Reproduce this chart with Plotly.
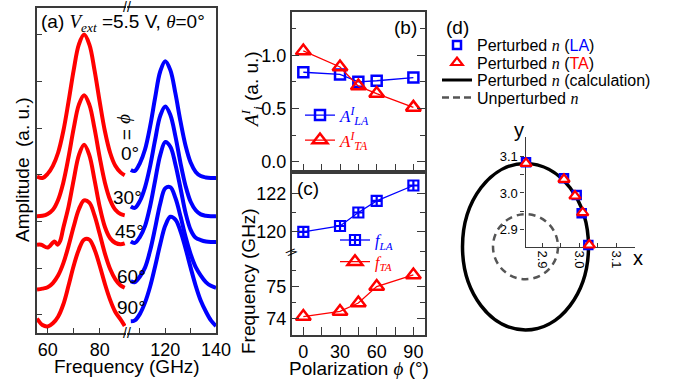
import plotly.graph_objects as go

W, H = 673, 385
RED, BLUE = "#ff0000", "#0000ff"
AX = "#3a3a3a"
SANS = "Liberation Sans, Arial, sans-serif"
SERIF = "Liberation Serif, Times New Roman, serif"

# ---------------- data ----------------
# (a) spectra, amplitude in offset units
red_freq = [55.9, 58, 60, 62, 64, 66, 68, 70, 72, 74, 76, 78, 80, 82, 84, 86, 88, 89.6]
red_freq_45 = [55.9, 57.5, 60.0, 62.6, 63.8, 64.8, 66, 68, 70, 72, 74, 76, 78, 80, 82, 84, 86, 88, 89.6]
red_0 = [2.96, 2.93, 3.02, 3.19, 3.47, 3.93, 4.56, 5.24, 5.79, 6.00, 5.79, 5.24, 4.56, 3.93, 3.47, 3.19, 3.05, 2.99]
red_30 = [2.11, 2.12, 2.16, 2.25, 2.46, 2.83, 3.37, 3.99, 4.50, 4.70, 4.50, 3.99, 3.37, 2.83, 2.46, 2.25, 2.16, 2.13]
red_45 = [1.50, 1.50, 1.44, 1.57, 1.50, 1.58, 1.86, 2.31, 2.89, 3.42, 3.64, 3.42, 2.89, 2.31, 1.88, 1.64, 1.54, 1.51, 1.53]
red_60 = [0.54, 0.56, 0.59, 0.68, 0.84, 1.10, 1.47, 1.89, 2.26, 2.45, 2.40, 2.13, 1.73, 1.31, 0.98, 0.76, 0.63, 0.58]
red_90 = [-0.08, -0.22, -0.25, -0.18, -0.04, 0.22, 0.62, 1.05, 1.40, 1.61, 1.61, 1.40, 1.05, 0.66, 0.32, 0.06, -0.10, -0.24]

blue_freq = [106.4, 108, 110, 112, 114, 116, 118, 120, 122, 124, 126, 128, 130, 132, 134, 136, 138, 140]
blue_0 = [3.10, 3.08, 3.25, 3.54, 4.03, 4.65, 5.21, 5.43, 5.24, 4.74, 4.14, 3.62, 3.26, 3.06, 2.97, 2.94, 2.93, 2.93]
blue_30 = [2.32, 2.29, 2.44, 2.73, 3.18, 3.75, 4.26, 4.46, 4.28, 3.82, 3.25, 2.76, 2.42, 2.24, 2.15, 2.12, 2.11, 2.11]
blue_45 = [1.57, 1.54, 1.67, 1.90, 2.32, 2.88, 3.42, 3.70, 3.60, 3.22, 2.71, 2.18, 1.82, 1.65, 1.60, 1.57, 1.56, 1.56]
blue_60 = [0.72, 0.70, 0.82, 1.01, 1.37, 1.86, 2.38, 2.71, 2.73, 2.50, 2.11, 1.67, 1.30, 1.02, 0.84, 0.70, 0.62, 0.58]
blue_90 = [-0.14, -0.12, 0.02, 0.26, 0.60, 1.04, 1.51, 1.91, 2.10, 2.04, 1.79, 1.42, 1.01, 0.62, 0.30, 0.07, -0.12, -0.24]

phi_labels = ["0°", "30°", "45°", "60°", "90°"]

# (b), (c)
pol_angle = [0, 30, 45, 60, 90]
amp_LA = [0.84, 0.82, 0.75, 0.76, 0.79]
amp_TA = [1.04, 0.89, 0.71, 0.64, 0.51]
freq_LA = [120.0, 120.3, 121.0, 121.6, 122.4]
freq_TA = [74.07, 74.23, 74.49, 75.00, 75.36]

# (d) index surface
n_LA_x = [2.8554, 2.9586, 2.9931, 3.0067, 3.0247]
n_LA_y = [3.0833, 3.0399, 2.9945, 2.9448, 2.8586]
n_TA_x = [2.8554, 2.9586, 2.9885, 3.0094, 3.0274]
n_TA_y = [3.0806, 3.0372, 2.9918, 2.9464, 2.8586]
calc_center = [2.854, 2.854]
calc_semi_axes = [0.1712, 0.2264]
unpert_center = [2.854, 2.854]
unpert_radius = 0.0883

# ---------------- helpers ----------------
def fx(px):
    return px / W

def fy(py):
    return 1 - py / H

fig = go.Figure()

for xs, ys in zip([red_freq, red_freq, red_freq_45, red_freq, red_freq],
                  [red_0, red_30, red_45, red_60, red_90]):
    fig.add_trace(go.Scatter(x=xs, y=ys, mode="lines", xaxis="x", yaxis="y",
                             line=dict(color=RED, width=4, shape="spline", smoothing=1.0),
                             showlegend=False, hoverinfo="skip"))
for ys in [blue_0, blue_30, blue_45, blue_60, blue_90]:
    fig.add_trace(go.Scatter(x=blue_freq, y=ys, mode="lines", xaxis="x2", yaxis="y2",
                             line=dict(color=BLUE, width=4, shape="spline", smoothing=1.0),
                             showlegend=False, hoverinfo="skip"))

ser = lambda s: f"<span style='font-family:Liberation Serif'>{s}</span>"

# (b)
fig.add_trace(go.Scatter(x=pol_angle, y=amp_LA, mode="lines+markers", xaxis="x3", yaxis="y3",
                         line=dict(color=BLUE, width=1.3),
                         marker=dict(symbol="square-open", size=10, color=BLUE, line=dict(width=2.5)),
                         name=f"<span style='color:{BLUE}'><i>A</i><sup><i>I</i></sup><sub><i>LA</i></sub></span>",
                         legend="legend5"))
fig.add_trace(go.Scatter(x=pol_angle, y=amp_TA, mode="lines+markers", xaxis="x3", yaxis="y3",
                         line=dict(color=RED, width=1.3),
                         marker=dict(symbol="triangle-up-open", size=13, color=RED, line=dict(width=2.5)),
                         name=f"<span style='color:{RED}'><i>A</i><sup><i>I</i></sup><sub><i>TA</i></sub></span>",
                         legend="legend6"))
# (c)
fig.add_trace(go.Scatter(x=pol_angle, y=freq_LA, mode="lines+markers", xaxis="x4", yaxis="y4",
                         line=dict(color=BLUE, width=1.3),
                         marker=dict(symbol="square-cross-open", size=10, color=BLUE, line=dict(width=2.2)),
                         name=f"<span style='color:{BLUE}'><i>f</i><sub><i>LA</i></sub></span>",
                         legend="legend7"))
fig.add_trace(go.Scatter(x=pol_angle, y=freq_TA, mode="lines+markers", xaxis="x5", yaxis="y5",
                         line=dict(color=RED, width=1.3),
                         marker=dict(symbol="triangle-up-open", size=13, color=RED, line=dict(width=2.5)),
                         name=f"<span style='color:{RED}'><i>f</i><sub><i>TA</i></sub></span>",
                         legend="legend8"))
# (d)
fig.add_trace(go.Scatter(x=n_LA_x, y=n_LA_y, mode="markers", xaxis="x7", yaxis="y7",
                         marker=dict(symbol="square-open", size=8, color=BLUE, line=dict(width=2.5)),
                         name="Perturbed " + ser("<i>n</i>") + f" (<span style='color:{BLUE}'>LA</span>)",
                         legend="legend"))
fig.add_trace(go.Scatter(x=n_TA_x, y=n_TA_y, mode="markers", xaxis="x7", yaxis="y7",
                         marker=dict(symbol="triangle-up", size=10, color="white", line=dict(width=2.2, color=RED)),
                         name="Perturbed " + ser("<i>n</i>") + f" (<span style='color:{RED}'>TA</span>)",
                         legend="legend2"))
fig.add_trace(go.Scatter(x=[None], y=[None], mode="lines", xaxis="x6", yaxis="y6",
                         line=dict(color="black", width=3),
                         name="Perturbed " + ser("<i>n</i>") + " (calculation)", legend="legend3"))
fig.add_trace(go.Scatter(x=[None], y=[None], mode="lines", xaxis="x6", yaxis="y6",
                         line=dict(color="#555555", width=2.5, dash="7px,4px"),
                         name="Unperturbed " + ser("<i>n</i>"), legend="legend4"))

shapes = [
    dict(type="circle", xref="x7", yref="y7", layer="below",
         x0=calc_center[0] - calc_semi_axes[0], x1=calc_center[0] + calc_semi_axes[0],
         y0=calc_center[1] - calc_semi_axes[1], y1=calc_center[1] + calc_semi_axes[1],
         line=dict(color="black", width=3.5)),
    dict(type="circle", xref="x7", yref="y7", layer="below",
         x0=unpert_center[0] - unpert_radius, x1=unpert_center[0] + unpert_radius,
         y0=unpert_center[1] - unpert_radius, y1=unpert_center[1] + unpert_radius,
         line=dict(color="#555555", width=2.5, dash="7px,5px")),
]

common = dict(showgrid=False, zeroline=False, linecolor=AX, linewidth=1.5,
              tickcolor=AX, tickwidth=1.3, tickfont=dict(family=SANS, size=18, color="black"))

O = 2.854      # (d) axes origin value
S = 368.0      # (d) pixels per unit
ox, oy = 525.5, 246.7

layout = dict(
    width=W, height=H, margin=dict(l=0, r=0, t=0, b=0, autoexpand=False),
    paper_bgcolor="white", plot_bgcolor="rgba(0,0,0,0)",
    font=dict(family=SANS, size=18, color="black"),
    xaxis=dict(**common, domain=[fx(37), fx(126)], range=[55.9, 90.1], anchor="y",
               showline=True, mirror=True, ticks="inside", ticklen=5, tickvals=[60, 80],
               minor=dict(tickvals=[70], ticks="inside", ticklen=5, tickcolor=AX)),
    xaxis2=dict(**common, domain=[fx(127), fx(216)], range=[104.9, 140], anchor="y2",
                showline=True, mirror=True, ticks="inside", ticklen=5, tickvals=[120, 140],
                minor=dict(tickvals=[110, 130], ticks="inside", ticklen=5, tickcolor=AX)),
    yaxis=dict(**common, domain=[fy(333), fy(8)], range=[-0.39, 6.57], anchor="x",
               showline=True, ticks="inside", ticklen=5, tickvals=[0, 1, 2, 3, 4, 5, 6],
               showticklabels=False),
    yaxis2=dict(**common, domain=[fy(333), fy(8)], range=[-0.39, 6.57], anchor="x2",
                side="right", showline=True, ticks="", showticklabels=False),
    xaxis3=dict(**common, domain=[fx(291.7), fx(425)], range=[-9.5, 99.5], anchor="y3",
                showline=True, mirror=True, ticks="inside", ticklen=8,
                tickvals=[0, 15, 30, 45, 60, 75, 90], showticklabels=False),
    yaxis3=dict(**common, domain=[fy(172), fy(12)], range=[-0.097, 1.406], anchor="x3",
                showline=True, mirror="allticks", ticks="inside", ticklen=8,
                tickvals=[0, 0.5, 1.0], ticktext=["0.0", "0.5", "1.0"],
                minor=dict(tickvals=[0.25, 0.75, 1.25], ticks="inside", ticklen=5, tickcolor=AX)),
    xaxis4=dict(**common, domain=[fx(291.7), fx(425)], range=[-9.5, 99.5], anchor="y4",
                side="top", showline=True, ticks="", showticklabels=False),
    yaxis4=dict(**common, domain=[fy(253), fy(172)], range=[118.9, 123.1], anchor="x4",
                showline=True, mirror="allticks", ticks="inside", ticklen=8, tickvals=[120, 122],
                minor=dict(tickvals=[119, 121, 123], ticks="inside", ticklen=5, tickcolor=AX)),
    xaxis5=dict(**common, domain=[fx(291.7), fx(425)], range=[-9.5, 99.5], anchor="y5",
                showline=True, ticks="inside", ticklen=8, tickvals=[0, 30, 60, 90],
                minor=dict(tickvals=[15, 45, 75], ticks="inside", ticklen=8, tickcolor=AX)),
    yaxis5=dict(**common, domain=[fy(335), fy(253)], range=[73.5, 76.04], anchor="x5",
                showline=True, mirror="allticks", ticks="inside", ticklen=8, tickvals=[74, 75],
                minor=dict(tickvals=[74.5, 75.5], ticks="inside", ticklen=5, tickcolor=AX)),
    xaxis6=dict(showgrid=False, zeroline=False, linecolor=AX, linewidth=1.3, tickcolor=AX,
                domain=[fx(ox), fx(635)], range=[O, O + (635 - ox) / S], anchor="y6",
                showline=True, ticks="inside", ticklen=4, tickvals=[2.9, 3.0, 3.1],
                ticktext=["2.9", "3.0", "3.1"], tickangle=90,
                tickfont=dict(family=SANS, size=13, color="black"),
                minor=dict(tickvals=[2.95, 3.05], ticks="inside", ticklen=4, tickcolor=AX)),
    yaxis6=dict(showgrid=False, zeroline=False, linecolor=AX, linewidth=1.3, tickcolor=AX,
                domain=[fy(oy), fy(137)], range=[O, O + (oy - 137) / S], anchor="x6",
                showline=True, ticks="outside", ticklen=4, tickvals=[2.9, 3.0, 3.1],
                ticktext=["2.9", "3.0", "3.1"],
                tickfont=dict(family=SANS, size=13, color="black"),
                minor=dict(tickvals=[2.95, 3.05], ticks="outside", ticklen=4, tickcolor=AX)),
    xaxis7=dict(visible=False, domain=[fx(455), fx(670)],
                range=[O - (ox - 455) / S, O + (670 - ox) / S], anchor="y7"),
    yaxis7=dict(visible=False, domain=[fy(345), fy(140)],
                range=[O - (345 - oy) / S, O + (oy - 140) / S], anchor="x7"),
    shapes=shapes,
)

def leg(px_left, py_top, font):
    return dict(x=fx(px_left), y=fy(py_top), xanchor="left", yanchor="top",
                bgcolor="rgba(0,0,0,0)", borderwidth=0, font=font)

f16 = dict(family=SANS, size=16, color="black")
layout["legend"] = leg(437, 28.1, f16)
layout["legend2"] = leg(437, 45.6, f16)
layout["legend3"] = leg(437, 63.1, f16)
layout["legend4"] = leg(437, 80.6, f16)
layout["legend5"] = leg(300, 97.5, dict(family=SERIF, size=17, color=BLUE))
layout["legend6"] = leg(300, 122.5, dict(family=SERIF, size=17, color=RED))
layout["legend7"] = leg(335, 223.1, dict(family=SERIF, size=16, color=BLUE))
layout["legend8"] = leg(335, 244.8, dict(family=SERIF, size=16, color=RED))

fig.update_layout(**layout)

def ann(px, py, text, size=19, angle=0, xanchor="center", **kw):
    fig.add_annotation(x=fx(px), y=fy(py), xref="paper", yref="paper", text=text,
                       showarrow=False, textangle=angle, xanchor=xanchor, yanchor="middle",
                       font=dict(family=SANS, size=size, color="black"), **kw)

ann(39, 23, "(a) " + ser("<i>V</i><sub><i>ext</i></sub>") + " =5.5 V, " + ser("<i>θ</i>") + "=0°",
    size=19, xanchor="left")
ann(23, 170, "Amplitude  (a. u.)", angle=-90)
ann(127, 366, "Frequency (GHz)")
ann(126.5, 7, "//", size=14)
ann(126.5, 333, "//", size=14)
ann(128, 127, ser("<i>ϕ</i>") + " =", angle=90)
for (px, py), lab in zip([(130, 153), (127.5, 197.5), (129, 231), (131, 276), (131, 307.5)], phi_labels):
    ann(px, py, lab)
ann(405, 27, "(b)")
ann(307.5, 188.5, "(c)")
ann(457.5, 27, "(d)")
ann(252, 90, ser("<i>A</i><sup><i>I</i></sup><sub><i>i</i></sub>") + " (a. u.)", angle=-90)
ann(248, 281, "Frequency (GHz)", angle=-90)
ann(359, 368, "Polarization " + ser("<i>ϕ</i>") + " (°)")
ann(291.7, 252, "//", size=13, angle=50)
ann(519, 130, "y", size=20)
ann(638, 258, "x", size=20)

fig.write_html("out.html")
